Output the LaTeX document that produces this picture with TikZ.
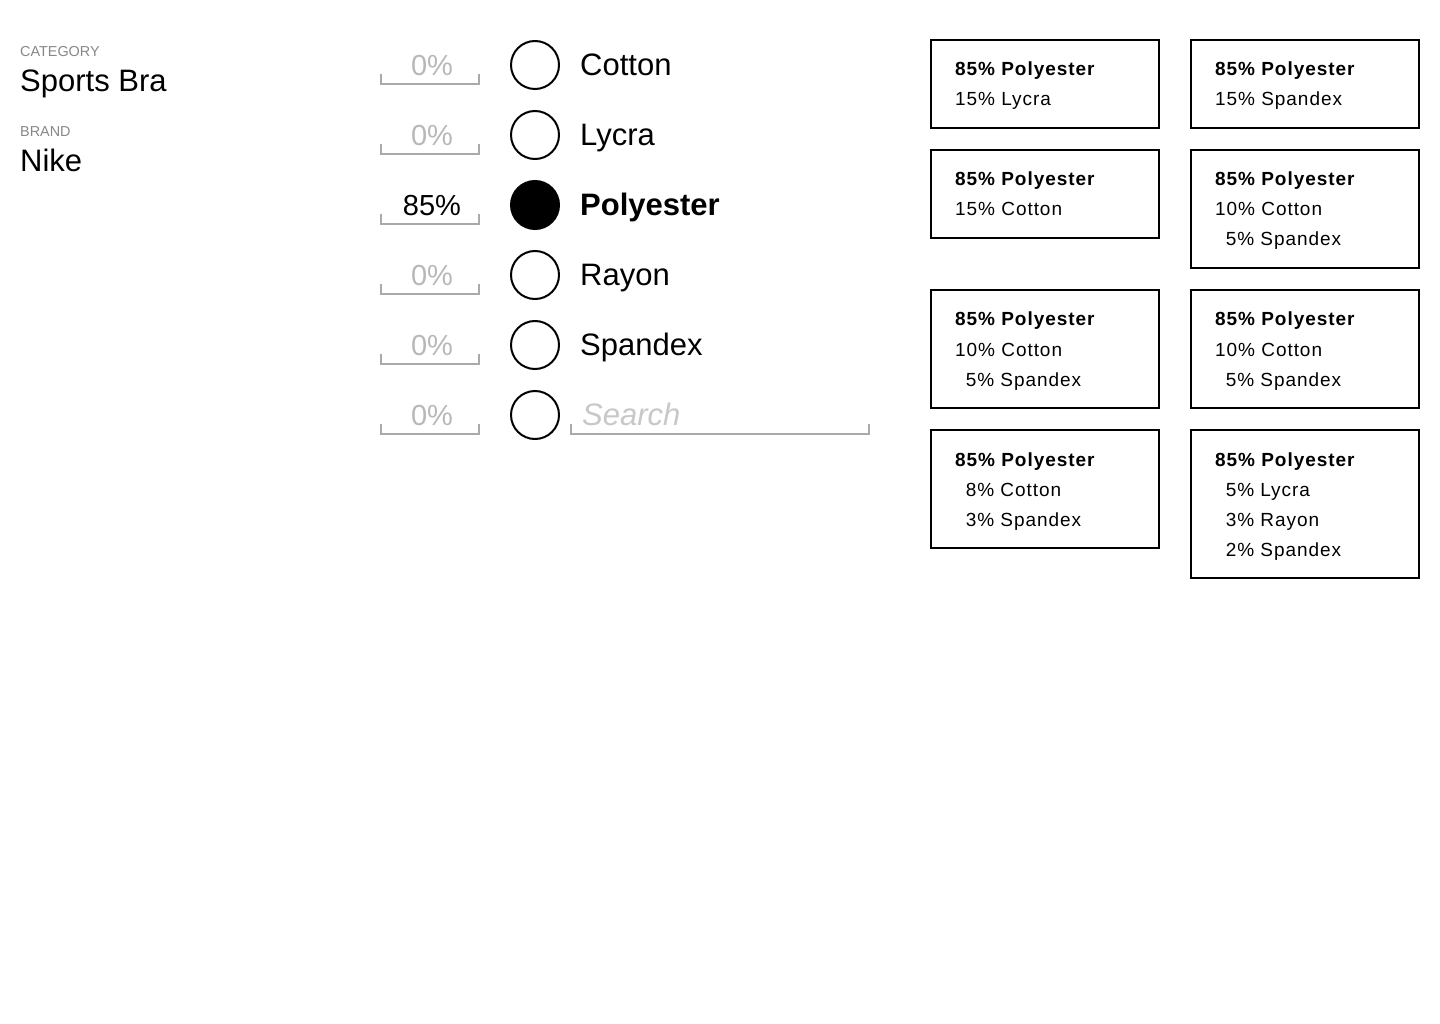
\documentclass[tikz,border=0pt]{standalone}
\usepackage{fontspec}
\setmainfont{Liberation Sans}
\newfontfamily\cardfont[LetterSpace=5]{Liberation Sans}
\definecolor{labgray}{HTML}{888888}
\definecolor{fieldgray}{HTML}{B8B8B8}
\definecolor{linegray}{HTML}{AAAAAA}
\definecolor{searchgray}{HTML}{C8C8C8}
\begin{document}
\begin{tikzpicture}[x=1pt,y=-1pt,
  lbl/.style={anchor=base west, inner sep=0pt, font=\fontsize{14.4}{16}\selectfont, text=labgray},
  val/.style={anchor=base west, inner sep=0pt, font=\fontsize{31}{36}\selectfont},
  pct/.style={anchor=base, inner sep=0pt, font=\fontsize{29}{32}\selectfont, text=fieldgray},
  fld/.style={draw=linegray, line width=1.5pt},
  radio/.style={circle, draw=black, line width=2pt, minimum size=48pt, inner sep=0pt},
  mat/.style={anchor=base west, inner sep=0pt, font=\fontsize{31}{36}\selectfont},
  card/.style={draw=black, line width=2pt, anchor=north west, minimum width=228pt, inner sep=0pt},
  cl/.style={anchor=base west, inner sep=0pt, font=\cardfont\fontsize{19}{22}\selectfont},
  cb/.style={cl, font=\cardfont\bfseries\fontsize{19}{22}\selectfont},
]
\fill[white] (0,0) rectangle (1440,1024);
\useasboundingbox (0,0) rectangle (1440,1024);

% left info
\node[lbl] (catl) at (20,57) {CATEGORY};
\node[val] (catv) at (20,92) {Sports Bra};
\node[lbl] (brl) at (20,137) {BRAND};
\node[val] (brv) at (20,172) {Nike};

% material rows
\foreach \yy in {65,135,205,275,345,415}{
  \draw[fld] (381,\yy+9) -- (381,\yy+19) -- (479,\yy+19) -- (479,\yy+9);
}
\node[pct] (p1) at (432,75.5) {0\%};
\node[pct] (p2) at (432,145.5) {0\%};
\node[pct, text=black] (p3) at (432,215.5) {85\%};
\node[pct] (p4) at (432,285.5) {0\%};
\node[pct] (p5) at (432,355.5) {0\%};
\node[pct] (p6) at (432,425.5) {0\%};

\node[radio] (c1) at (535,65) {};
\node[radio] (c2) at (535,135) {};
\node[radio, fill=black] (c3) at (535,205) {};
\node[radio] (c4) at (535,275) {};
\node[radio] (c5) at (535,345) {};
\node[radio] (c6) at (535,415) {};

\node[mat] (m1) at (580,75.5) {Cotton};
\node[mat] (m2) at (580,145.5) {Lycra};
\node[mat, font=\bfseries\fontsize{31}{36}\selectfont] (m3) at (580,215.5) {Polyester};
\node[mat] (m4) at (580,285.5) {Rayon};
\node[mat] (m5) at (580,355.5) {Spandex};
\node[mat, text=searchgray, font=\itshape\fontsize{31}{36}\selectfont] (m6) at (582,425.5) {Search};
\draw[fld] (571,424) -- (571,434) -- (869,434) -- (869,424);

% cards column 1
\node[card, minimum height=88pt] (k1) at (930,39) {};
\node[cb] (k1a) at (955,76) {85\% Polyester};
\node[cl] (k1b) at (955,106) {15\% Lycra};

\node[card, minimum height=88pt] (k2) at (930,149) {};
\node[cb] (k2a) at (955,186) {85\% Polyester};
\node[cl] (k2b) at (955,216) {15\% Cotton};

\node[card, minimum height=118pt] (k3) at (930,289) {};
\node[cb] (k3a) at (955,326) {85\% Polyester};
\node[cl] (k3b) at (955,356) {10\% Cotton};
\node[cl] (k3c) at (955,386) {\phantom{1}5\% Spandex};

\node[card, minimum height=118pt] (k4) at (930,429) {};
\node[cb] (k4a) at (955,466) {85\% Polyester};
\node[cl] (k4b) at (955,496) {\phantom{1}8\% Cotton};
\node[cl] (k4c) at (955,526) {\phantom{1}3\% Spandex};

% cards column 2
\node[card, minimum height=88pt] (q1) at (1190,39) {};
\node[cb] (q1a) at (1215,76) {85\% Polyester};
\node[cl] (q1b) at (1215,106) {15\% Spandex};

\node[card, minimum height=118pt] (q2) at (1190,149) {};
\node[cb] (q2a) at (1215,186) {85\% Polyester};
\node[cl] (q2b) at (1215,216) {10\% Cotton};
\node[cl] (q2c) at (1215,246) {\phantom{1}5\% Spandex};

\node[card, minimum height=118pt] (q3) at (1190,289) {};
\node[cb] (q3a) at (1215,326) {85\% Polyester};
\node[cl] (q3b) at (1215,356) {10\% Cotton};
\node[cl] (q3c) at (1215,386) {\phantom{1}5\% Spandex};

\node[card, minimum height=148pt] (q4) at (1190,429) {};
\node[cb] (q4a) at (1215,466) {85\% Polyester};
\node[cl] (q4b) at (1215,496) {\phantom{1}5\% Lycra};
\node[cl] (q4c) at (1215,526) {\phantom{1}3\% Rayon};
\node[cl] (q4d) at (1215,556) {\phantom{1}2\% Spandex};
\end{tikzpicture}
\end{document}
